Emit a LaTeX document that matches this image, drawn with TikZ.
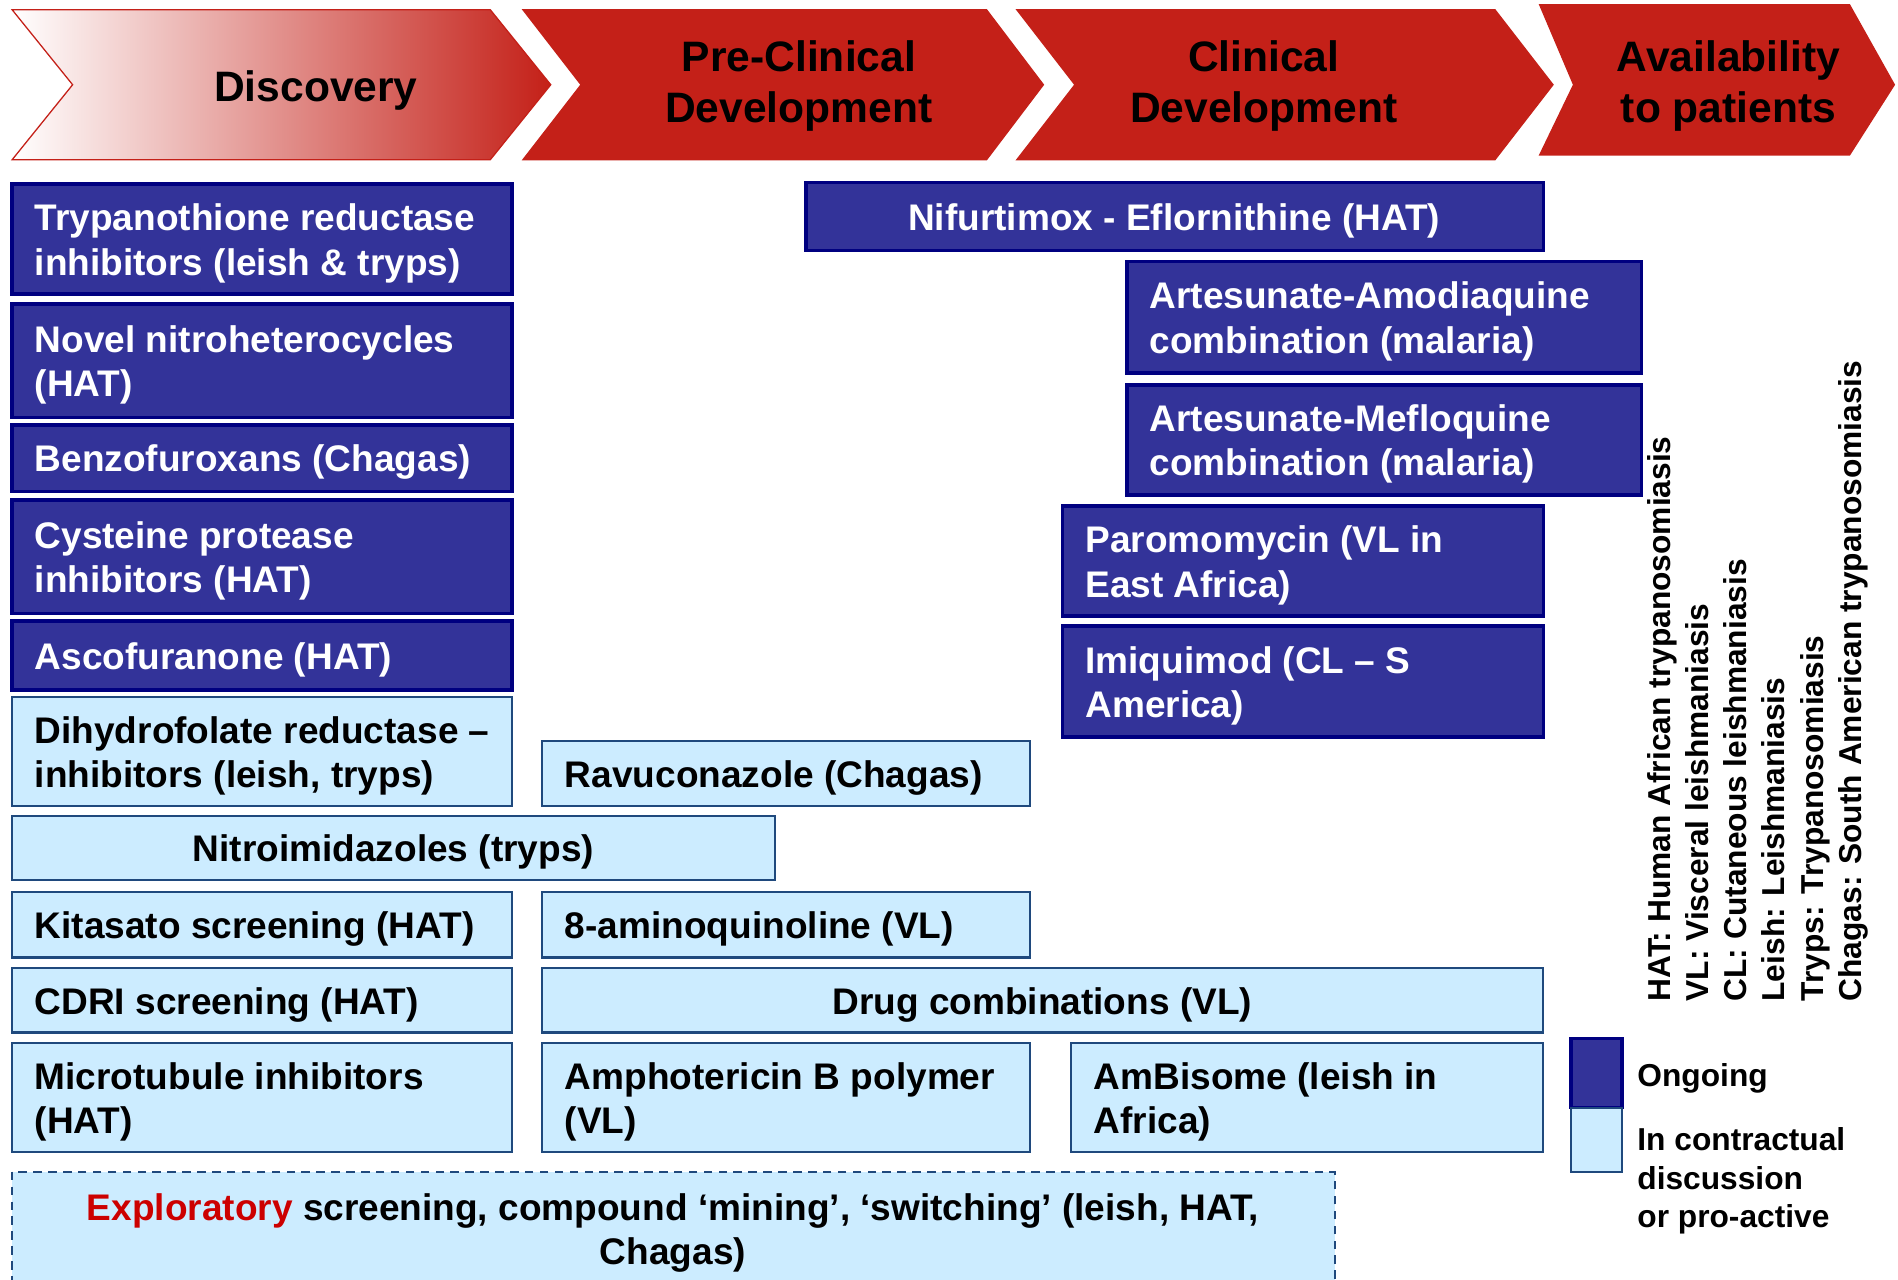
\documentclass[tikz,border=0pt]{standalone}
\usepackage{fontspec}
\setmainfont{Liberation Sans}
\definecolor{stagered}{RGB}{196,32,24}
\definecolor{ongofill}{RGB}{51,51,153}
\definecolor{ongoline}{RGB}{0,0,128}
\definecolor{pendfill}{RGB}{204,236,255}
\definecolor{pendline}{RGB}{31,73,125}
\definecolor{expred}{RGB}{204,0,0}
\begin{document}
\begin{tikzpicture}[x=0.01cm, y=-0.01cm, line join=miter,
	stage/.style={fill=stagered, draw=stagered, line width=0.3pt},
	ongoing/.style={fill=ongofill, draw=ongoline, line width=0.8pt},
	pending/.style={fill=pendfill, draw=pendline, line width=0.5pt},
	head/.style={font=\bfseries\fontsize{10}{12}\selectfont, align=center, inner sep=0pt, yshift=-0.03cm},
	lbl/.style={font=\bfseries\fontsize{8.7}{10.4}\selectfont, align=left, inner sep=0pt, anchor=west, yshift=-0.035cm},
	lblc/.style={lbl, align=center, anchor=center},
	key/.style={font=\bfseries\fontsize{7.45}{9}\selectfont, align=left, inner sep=0pt}]
	\useasboundingbox (0,0) rectangle (1568,1057);
	% stages
	\draw[draw=stagered, line width=0.3pt, left color=white, right color=stagered]
		(10,8)--(405,8)--(455,70)--(405,132)--(10,132)--(60,70)--cycle;
	\draw[stage] (432,8)--(815,8)--(862,70)--(815,132)--(432,132)--(480,70)--cycle;
	\draw[stage] (840,8)--(1235,8)--(1283,70)--(1235,132)--(840,132)--(888,70)--cycle;
	\draw[stage] (1272,4)--(1528,4)--(1565,70)--(1528,128)--(1272,128)--(1300,70)--cycle;
	\node[head] (disc) at (261,72) {Discovery};
	\node[head] (precl) at (660,68) {Pre-Clinical\\Development};
	\node[head] (clin) at (1044,68) {Clinical\\Development};
	\node[head] (avail) at (1428,68) {Availability\\to patients};
	% ongoing projects
	\draw[ongoing] (10,152) rectangle (423,243);
	\node[lbl, text=white] (tryp) at (28,197.5) {Trypanothione reductase\\inhibitors (leish \& tryps)};
	\draw[ongoing] (10,251) rectangle (423,345);
	\node[lbl, text=white] (nitro) at (28,298) {Novel nitroheterocycles\\(HAT)};
	\draw[ongoing] (10,351) rectangle (423,406);
	\node[lbl, text=white] (benzo) at (28,378.5) {Benzofuroxans (Chagas)};
	\draw[ongoing] (10,413) rectangle (423,507);
	\node[lbl, text=white] (cyst) at (28,460) {Cysteine protease\\inhibitors (HAT)};
	\draw[ongoing] (10,513) rectangle (423,570);
	\node[lbl, text=white] (asco) at (28,541.5) {Ascofuranone (HAT)};
	\draw[ongoing] (666,151) rectangle (1275,207);
	\node[lblc, text=white] (nifu) at (970,179) {Nifurtimox - Eflornithine (HAT)};
	\draw[ongoing] (931,216) rectangle (1356,308);
	\node[lbl, text=white] (asaq) at (949,262) {Artesunate-Amodiaquine\\combination (malaria)};
	\draw[ongoing] (931,318) rectangle (1356,409);
	\node[lbl, text=white] (asmq) at (949,363.5) {Artesunate-Mefloquine\\combination (malaria)};
	\draw[ongoing] (878,418) rectangle (1275,509);
	\node[lbl, text=white] (paro) at (896,463.5) {Paromomycin (VL in\\East Africa)};
	\draw[ongoing] (878,517) rectangle (1275,609);
	\node[lbl, text=white] (imiq) at (896,563) {Imiquimod (CL – S\\America)};
	% projects in discussion
	\draw[pending] (10,576) rectangle (423,666);
	\node[lbl] (dhfr) at (28,621) {Dihydrofolate reductase –\\inhibitors (leish, tryps)};
	\draw[pending] (448,612) rectangle (851,666);
	\node[lbl] (ravu) at (466,639) {Ravuconazole (Chagas)};
	\draw[pending] (10,674) rectangle (640,727);
	\node[lblc] (nimi) at (325,700.5) {Nitroimidazoles (tryps)};
	\draw[pending] (10,737) rectangle (423,791);
	\node[lbl] (kita) at (28,764) {Kitasato screening (HAT)};
	\draw[pending] (448,737) rectangle (851,791);
	\node[lbl] (amq) at (466,764) {8-aminoquinoline (VL)};
	\draw[pending] (10,800) rectangle (423,853);
	\node[lbl] (cdri) at (28,826.5) {CDRI screening (HAT)};
	\draw[pending] (448,800) rectangle (1275,853);
	\node[lblc] (dcomb) at (861,826.5) {Drug combinations (VL)};
	\draw[pending] (10,862) rectangle (423,952);
	\node[lbl] (micro) at (28,907) {Microtubule inhibitors\\(HAT)};
	\draw[pending] (448,862) rectangle (851,952);
	\node[lbl] (ampho) at (466,907) {Amphotericin B polymer\\(VL)};
	\draw[pending] (885,862) rectangle (1275,952);
	\node[lbl] (ambi) at (903,907) {AmBisome (leish in\\Africa)};
	\begin{scope}
		\clip (0,0) rectangle (1568,1057);
		\draw[pending, dash pattern=on 2pt off 1.5pt] (10,968) rectangle (1103,1075);
	\end{scope}
	\node[lblc] (explo) at (556,1015) {\textcolor{expred}{Exploratory} screening, compound ‘mining’, ‘switching’ (leish, HAT,\\Chagas)};
	% key
	\draw[ongoing] (1298,858) rectangle (1340,915);
	\draw[pending] (1298,915) rectangle (1340,968);
	\node[key, anchor=west] (kon) at (1352,891) {Ongoing};
	\node[key, anchor=north west] (kpend) at (1352,931) {In contractual\\discussion\\or pro-active};
	\node[key, rotate=90, anchor=north west] (abbr) at (1360,828)
		{HAT: Human African trypanosomiasis\\VL: Visceral leishmaniasis\\CL: Cutaneous leishmaniasis\\Leish: Leishmaniasis\\Tryps: Trypanosomiasis\\Chagas: South American trypanosomiasis};
\end{tikzpicture}
\end{document}
